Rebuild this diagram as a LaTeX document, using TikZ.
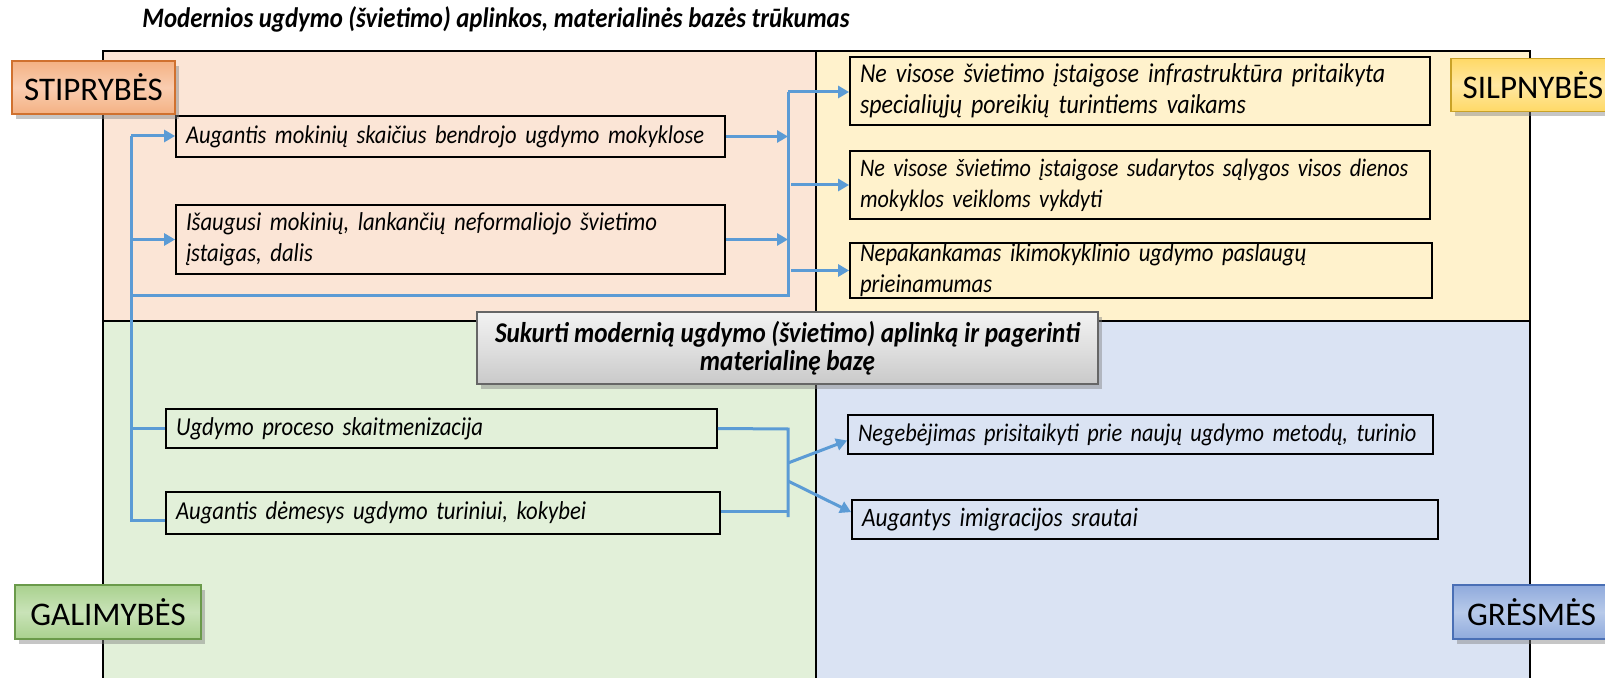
\documentclass[tikz,border=0pt]{standalone}
\usepackage{fontspec}
\setmainfont{Carlito}[FakeStretch=0.88]
\newfontfamily\labfont{Carlito}
\usetikzlibrary{shadows,arrows.meta,calc}
\definecolor{cTL}{HTML}{FBE5D6}
\definecolor{cTR}{HTML}{FFF2CC}
\definecolor{cBL}{HTML}{E2F0D9}
\definecolor{cBR}{HTML}{DAE3F3}
\definecolor{cConn}{HTML}{5B9BD5}
\definecolor{sEdge}{HTML}{F4B183}\definecolor{sMid}{HTML}{F9CDB0}\definecolor{sLine}{HTML}{D0712F}
\definecolor{wEdge}{HTML}{FFD966}\definecolor{wMid}{HTML}{FFE8A3}\definecolor{wLine}{HTML}{C9A227}
\definecolor{oEdge}{HTML}{A9D18E}\definecolor{oMid}{HTML}{C9E3B8}\definecolor{oLine}{HTML}{6A9A4A}
\definecolor{tEdge}{HTML}{8FAADC}\definecolor{tMid}{HTML}{B8CAEA}\definecolor{tLine}{HTML}{4A6FB5}
\tikzset{
  tbox/.style={draw=black, line width=0.9pt, inner xsep=5pt, inner ysep=1pt, align=left,
    font=\itshape\fontsize{12.9}{15.4}\selectfont},
  lab/.style={line width=0.8pt, font=\labfont\fontsize{16.5}{18}\selectfont,
    drop shadow={opacity=0.45, shadow xshift=2pt, shadow yshift=-2.5pt}},
  conn/.style={draw=cConn, line width=1.5pt},
  arr/.style={conn, -{Triangle[length=5.5pt,width=6pt]}},
  quad/.style={draw=black, line width=0.8pt}
}
\begin{document}
\begin{tikzpicture}[x=0.5pt,y=-0.5pt]
\useasboundingbox (0,0) rectangle (1605,678);
% quadrants
\fill[cTL] (103,51) rectangle (816,321);
\fill[cTR] (816,51) rectangle (1530,321);
\fill[cBL] (103,321) rectangle (816,690);
\fill[cBR] (816,321) rectangle (1530,690);
\draw[quad] (103,690) -- (103,51) -- (1530,51) -- (1530,690);
\draw[quad] (816,51) -- (816,690);
\draw[quad] (103,321) -- (1530,321);
% title
\node[font=\bfseries\itshape\fontsize{14.1}{16}\selectfont] (title) at (496,19) {Modernios ugdymo (švietimo) aplinkos, materialinės bazės trūkumas};
% boxes
\node[tbox, minimum width=274.5pt, minimum height=20.5pt, text width=264.5pt, font=\itshape\fontsize{12.8}{15.4}\selectfont] (b1) at (450.5,136.5) {\mbox{Augantis mokinių skaičius bendrojo ugdymo mokyklose}};
\node[tbox, minimum width=274.5pt, minimum height=34.5pt, text width=264.5pt] (b2) at (450.5,239.5) {Išaugusi mokinių, lankančių neformaliojo švietimo\\įstaigas, dalis};
\node[tbox, minimum width=290pt, minimum height=34pt, text width=280pt, font=\itshape\fontsize{13.6}{15.4}\selectfont] (b3) at (1140,91) {Ne visose švietimo įstaigose infrastruktūra pritaikyta\\specialiųjų poreikių turintiems vaikams};
\node[tbox, minimum width=290pt, minimum height=34pt, text width=280pt, font=\itshape\fontsize{12.6}{15.4}\selectfont] (b4) at (1140,185) {Ne visose švietimo įstaigose sudarytos sąlygos visos dienos\\mokyklos veikloms vykdyti};
\node[tbox, minimum width=291pt, minimum height=27.5pt, text width=281pt, inner ysep=0pt] (b5) at (1141,270.5) {Nepakankamas ikimokyklinio ugdymo paslaugų\\prieinamumas};
\node[tbox, minimum width=275.5pt, minimum height=19.5pt, text width=265.5pt] (b6) at (441.5,428.5) {\mbox{Ugdymo proceso skaitmenizacija}};
\node[tbox, minimum width=277pt, minimum height=21pt, text width=267pt] (b7) at (443,513) {\mbox{Augantis dėmesys ugdymo turiniui, kokybei}};
\node[tbox, minimum width=292.5pt, minimum height=19.5pt, text width=282.5pt, font=\itshape\fontsize{12.7}{15.4}\selectfont] (b8) at (1140.5,434.5) {\mbox{Negebėjimas prisitaikyti prie naujų ugdymo metodų, turinio}};
\node[tbox, minimum width=293pt, minimum height=19.5pt, text width=283pt, font=\itshape\fontsize{13.3}{15.4}\selectfont] (b9) at (1145,519.5) {\mbox{Augantys imigracijos srautai}};
% centre
\node[draw=gray!80!black, line width=0.8pt, top color=gray!10, bottom color=gray!42, middle color=gray!25,
  minimum width=310.5pt, minimum height=36pt, align=center, inner ysep=1pt,
  font=\bfseries\itshape\fontsize{14.3}{13.8}\selectfont,
  drop shadow={opacity=0.45, shadow xshift=2pt, shadow yshift=-2.5pt}] (c) at (787.5,348)
  {Sukurti modernią ugdymo (švietimo) aplinką ir pagerinti\\materialinę bazę};
% labels
\node[lab, draw=sLine, top color=sEdge, bottom color=sEdge, middle color=sMid,
  minimum width=81.5pt, minimum height=26.5pt] (s) at (93.5,87.5) {STIPRYBĖS};
\node[lab, draw=wLine, top color=wEdge, bottom color=wEdge, middle color=wMid,
  minimum width=82pt, minimum height=26.5pt] (w) at (1533,85) {SILPNYBĖS};
\node[lab, draw=oLine, top color=oEdge, bottom color=oEdge, middle color=oMid,
  minimum width=93pt, minimum height=27pt] (o) at (108,612) {GALIMYBĖS};
\node[lab, draw=tLine, top color=tEdge, bottom color=tEdge, middle color=tMid,
  minimum width=78.5pt, minimum height=27pt] (t) at (1531.5,612) {GRĖSMĖS};
% connectors
\coordinate (Ltop) at (131,136);
\coordinate (Lbot) at (131,520);
\coordinate (Lmid) at (131,296);
\coordinate (Rtop) at (788,92);
\coordinate (Rbot) at (788,296);
\coordinate (Btop) at (788,429);
\coordinate (Bbot) at (788,517);
\coordinate (Bo1) at (788,463);
\coordinate (Bo2) at (788,481);
\draw[conn] (b7.west |- Lbot) -- (Lbot) -- (Ltop);
\draw[arr] (Ltop) -- (b1.west |- Ltop);
\draw[arr] (Ltop |- b2.west) -- (b2.west);
\draw[conn] (Ltop |- b6.west) -- (b6.west);
\draw[conn] (Lmid) -- (Rbot) -- (Rtop);
\draw[arr] (b1.east) -- (Rtop |- b1.east);
\draw[arr] (b2.east) -- (Rtop |- b2.east);
\draw[arr] (Rtop) -- (b3.west |- Rtop);
\draw[arr] ([xshift=1.5pt]Rtop |- b4.west) -- (b4.west);
\draw[arr] ([xshift=1.5pt]Rtop |- b5.west) -- (b5.west);
\draw[conn] (b6.east) -- (Btop) -- (Bbot);
\draw[conn] (b7.east |- 0,511) -- (788,511);
\draw[arr] (Bo1) -- ([yshift=-3pt]b8.west);
\draw[arr] (Bo2) -- ([yshift=3.7pt]b9.west);
\end{tikzpicture}
\end{document}
